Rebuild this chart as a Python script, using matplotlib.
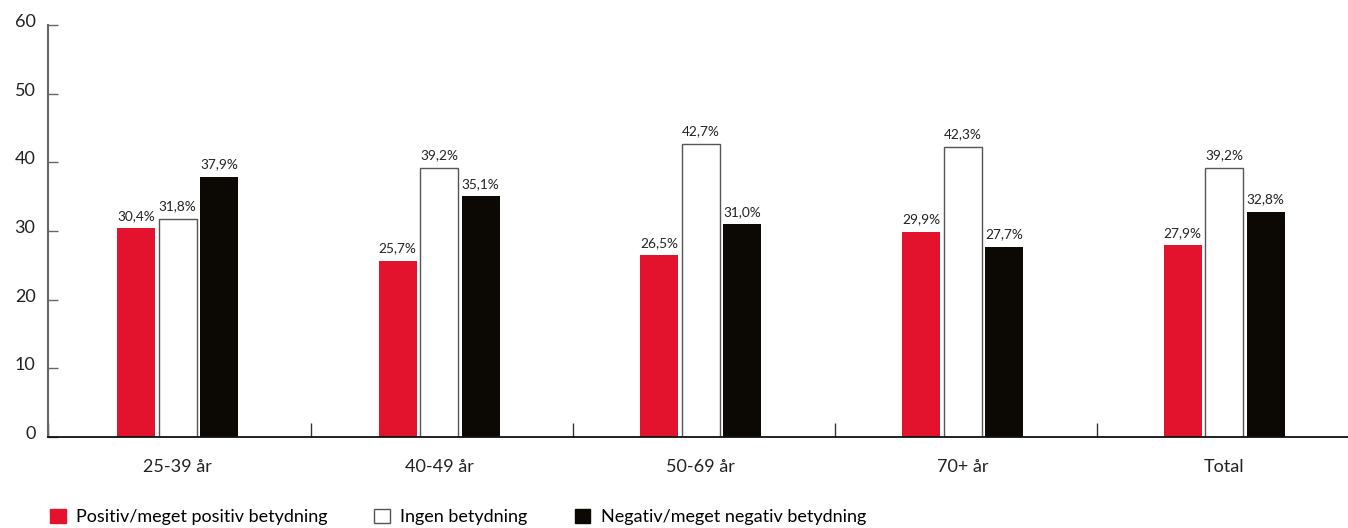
import matplotlib
matplotlib.use("Agg")
import matplotlib.pyplot as plt
import matplotlib.transforms as mtransforms
import numpy as np
from matplotlib.patches import Patch

categories = ["25-39 år", "40-49 år", "50-69 år", "70+ år", "Total"]
series_names = ["Positiv/meget positiv betydning", "Ingen betydning", "Negativ/meget negativ betydning"]
positiv = [30.4, 25.7, 26.5, 29.9, 27.9]
ingen = [31.8, 39.2, 42.7, 42.3, 39.2]
negativ = [37.9, 35.1, 31.0, 27.7, 32.8]
y_ticks = [0, 10, 20, 30, 40, 50, 60]

plt.rcParams['font.family'] = ['Lato', 'DejaVu Sans']

W, H = 1348, 528
fig = plt.figure(figsize=(W/100, H/100), dpi=100)
ax = fig.add_axes([48/W, 91/H, 1 - 48/W, (437-25)/H])

unit = 261.7          # px per group
c0 = 177.5            # px of first group centre
x = np.arange(len(categories))
bw = 38 / unit
step = 41.5 / unit
colors = ["#E3132D", "white", "#0C0905"]
edges = ["#E3132D", "#555555", "#0C0905"]
for i, (vals, c, e) in enumerate(zip([positiv, ingen, negativ], colors, edges)):
    xs = x + (i - 1) * step
    ax.bar(xs, vals, width=bw, color=c, edgecolor=e, linewidth=1.0 if i == 1 else 0,
           label=series_names[i], zorder=2)
    for xi, v in zip(xs, vals):
        ax.text(xi, v + 0.9, f"{v:.1f}%".replace(".", ","), ha="center", va="bottom",
                fontsize=9.8, color="#222222")

ax.set_ylim(0, 60)
xl = (48 - c0) / unit
xr = (W - c0) / unit
ax.set_xlim(xl, xr)
ax.set_yticks(y_ticks)
ax.set_yticklabels([str(t) for t in y_ticks], fontsize=13, color="#222222")
ax.tick_params(axis="y", direction="in", length=7, width=1, color="#666666", pad=9)
off = mtransforms.ScaledTranslation(0, 4.5/100, fig.dpi_scale_trans)
for lab in ax.get_yticklabels():
    lab.set_transform(lab.get_transform() + off)

major = [xl] + [i + 0.5 + 0.012 for i in range(len(categories) - 1)]
ax.set_xticks(major)
ax.set_xticklabels([])
ax.set_xticks(x, minor=True)
ax.set_xticklabels(categories, minor=True, fontsize=13, color="#222222")
ax.tick_params(axis="x", which="major", direction="in", length=10, width=1, color="#333333")
ax.tick_params(axis="x", which="minor", length=0, pad=16)
for s in ["top", "right"]:
    ax.spines[s].set_visible(False)
ax.spines["left"].set_color("#666666")
ax.spines["left"].set_linewidth(1.5)
ax.spines["bottom"].set_color("#111111")
ax.spines["bottom"].set_linewidth(1.3)

handles = [Patch(facecolor=c, edgecolor=e, linewidth=1) for c, e in zip(colors, edges)]
fig.legend(handles, series_names, loc="center left", bbox_to_anchor=(50/W, 11/H), ncol=3,
           frameon=False, fontsize=13, handlelength=0.87, handleheight=0.87, handletextpad=0.57,
           columnspacing=2.6, borderaxespad=0, borderpad=0)

fig.savefig("out.png", dpi=100)
